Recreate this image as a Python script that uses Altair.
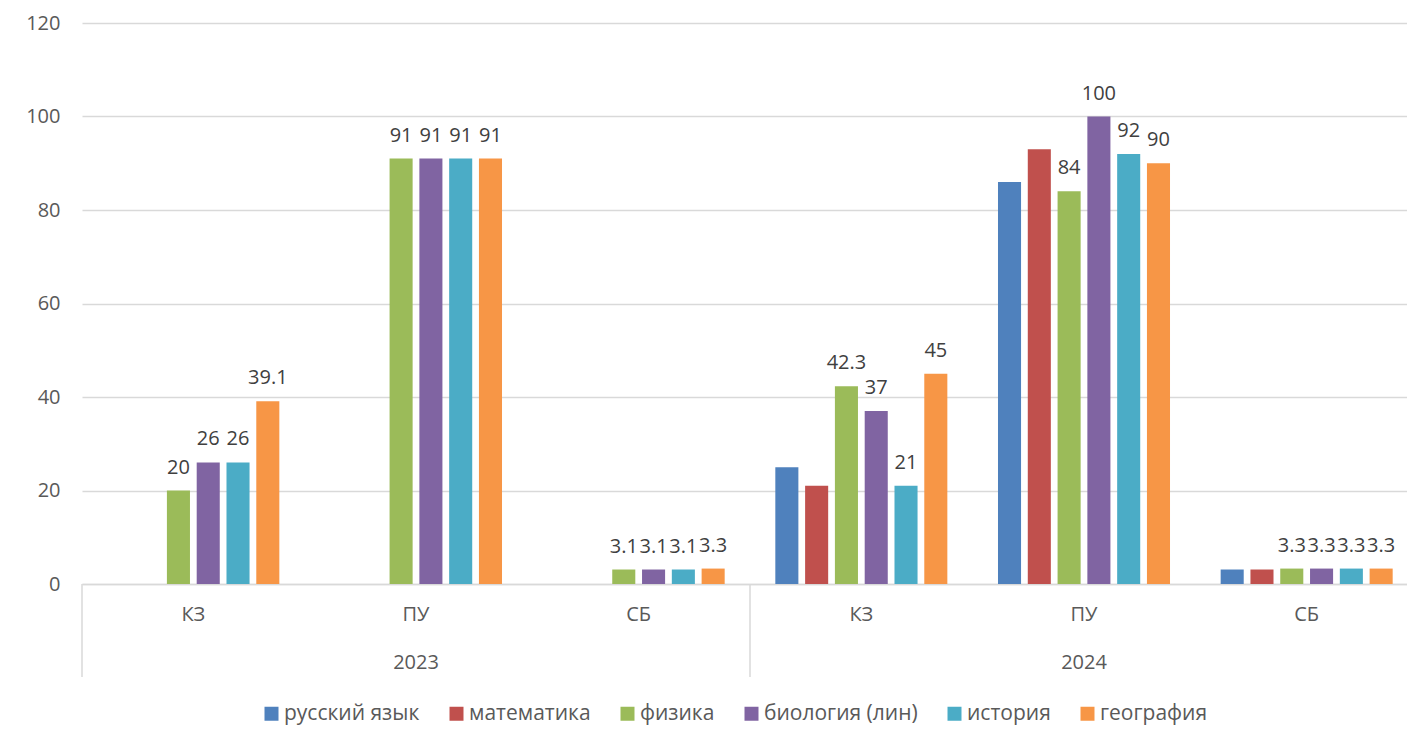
import altair as alt
import pandas as pd

years = ["2023", "2023", "2023", "2024", "2024", "2024"]
groups = ["КЗ", "ПУ", "СБ", "КЗ", "ПУ", "СБ"]
series = ["русский язык", "математика", "физика", "биология (лин)", "история", "география"]
colors = ["#4F81BD", "#C0504D", "#9BBB59", "#8064A2", "#4BACC6", "#F79646"]

v_russian = [None, None, None, 25, 86, 3.1]
v_math = [None, None, None, 21, 93, 3.1]
v_physics = [20, 91, 3.1, 42.3, 84, 3.3]
v_biology = [26, 91, 3.1, 37, 100, 3.3]
v_history = [26, 91, 3.1, 21, 92, 3.3]
v_geography = [39.1, 91, 3.3, 45, 90, 3.3]
labelled = ["физика", "биология (лин)", "история", "география"]

all_values = [v_russian, v_math, v_physics, v_biology, v_history, v_geography]
cats = [f"{y} {g}" for y, g in zip(years, groups)]

rows = []
for s, vals in zip(series, all_values):
    for c, v in zip(cats, vals):
        if v is not None:
            rows.append({"cat": c, "series": s, "value": v,
                         "label": f"{v:g}", "show": s in labelled})
df = pd.DataFrame(rows)

year_df = pd.DataFrame({"cat": [f"{y} ПУ" for y in ["2023", "2024"]], "year": ["2023", "2024"]})
div_df = pd.DataFrame({"cat": [f"{y} КЗ" for y in ["2023", "2024"]]})

FONT = "Open Sans"
x_scale = alt.Scale(domain=cats, range=[0, 1336], paddingInner=0, paddingOuter=0)
off_scale = alt.Scale(domain=series, paddingInner=0.226, paddingOuter=0.85)

bars = alt.Chart(df).mark_bar().encode(
    x=alt.X("cat:N", scale=x_scale,
            axis=alt.Axis(title=None, labelExpr="split(datum.label, ' ')[1]",
                          labelAngle=0, ticks=False, grid=False,
                          domainColor="#d9d9d9", domainWidth=1.5,
                          labelFont=FONT, labelFontSize=20, labelColor="#595959",
                          labelPadding=20)),
    xOffset=alt.XOffset("series:N", scale=off_scale),
    y=alt.Y("value:Q", scale=alt.Scale(domain=[0, 120]),
            axis=alt.Axis(title=None, values=[0, 20, 40, 60, 80, 100, 120],
                          domain=False, ticks=False, gridColor="#d9d9d9",
                          gridWidth=1.3, labelFont=FONT, labelFontSize=20,
                          labelColor="#595959", labelPadding=22)),
    color=alt.Color("series:N", scale=alt.Scale(domain=series, range=colors),
                    legend=alt.Legend(title=None, orient="none", direction="horizontal",
                                      legendX=179, legendY=680,
                                      symbolType="square", symbolSize=196,
                                      symbolStrokeWidth=0, labelFont=FONT,
                                      labelFontSize=21, labelColor="#595959",
                                      labelOffset=2, columnPadding=26)),
)

labels = alt.Chart(df).transform_filter("datum.show").mark_text(
    font=FONT, fontSize=20, color="#404040", baseline="alphabetic", dy=-17
).encode(
    x=alt.X("cat:N", scale=x_scale),
    xOffset=alt.XOffset("series:N", scale=off_scale),
    y=alt.Y("value:Q"),
    text="label:N",
)

year_text = alt.Chart(year_df).mark_text(
    font=FONT, fontSize=20, color="#595959", baseline="middle"
).encode(
    x=alt.X("cat:N", scale=x_scale),
    y=alt.value(640),
    text="year:N",
)

dividers = alt.Chart(div_df).mark_rule(color="#d9d9d9", strokeWidth=1.5).encode(
    x=alt.X("cat:N", scale=x_scale, bandPosition=0),
    y=alt.value(561),
    y2=alt.value(654),
)

chart = alt.layer(bars, labels, year_text, dividers).properties(
    width=1325, height=561,
    autosize=alt.AutoSizeParams(type="none"),
    padding={"left": 74, "top": 15, "right": 0, "bottom": 144},
).configure_view(stroke=None)

chart.save("out.html", embed_options={"renderer": "svg", "actions": False})
